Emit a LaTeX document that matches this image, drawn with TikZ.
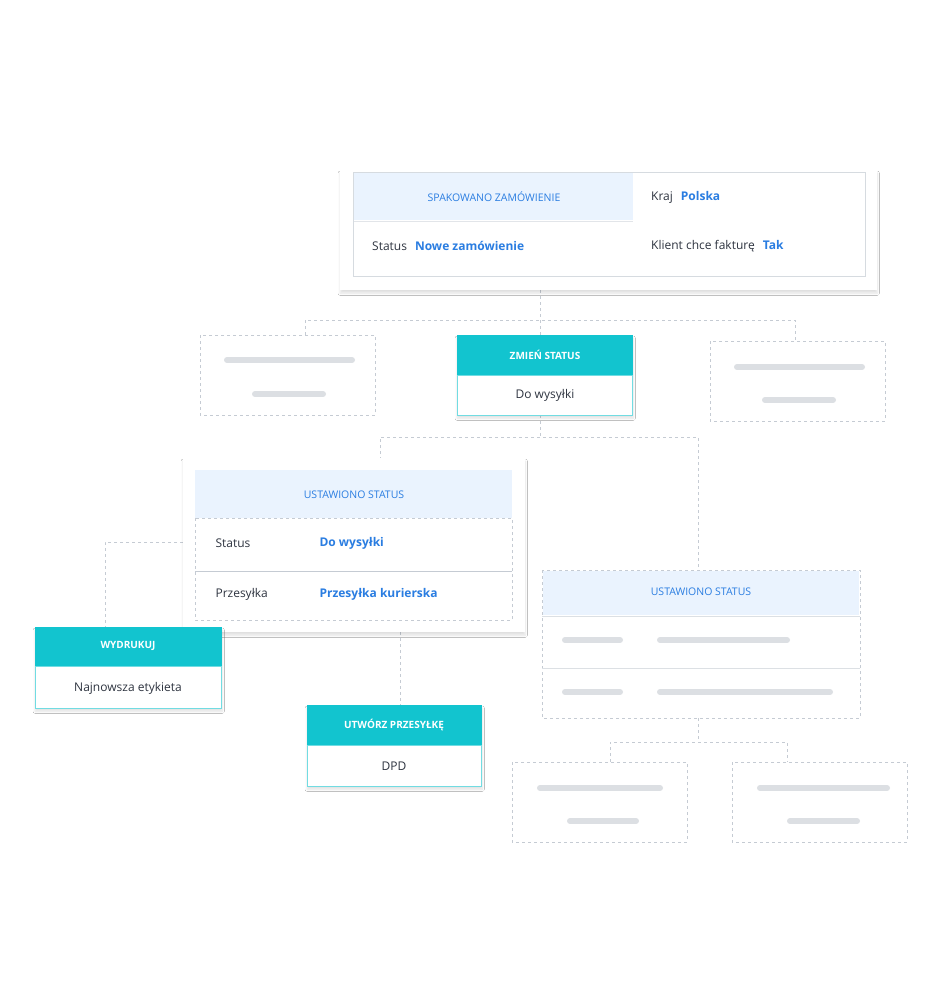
\documentclass[tikz,border=0pt]{standalone}
\usepackage{fontspec}
\setmainfont{Open Sans}
\usetikzlibrary{shadows.blur}
\definecolor{teal}{HTML}{12C4CF}
\definecolor{bl}{HTML}{2A7DE1}
\definecolor{lb}{HTML}{EAF3FE}
\definecolor{dg}{HTML}{C5CBD3}
\definecolor{bar}{HTML}{DCDFE3}
\definecolor{txt}{HTML}{2E3440}
\begin{document}
\begin{tikzpicture}[x=1pt,y=-1pt,
 card/.style={fill=white,draw=none,blur shadow={shadow blur steps=8,shadow xshift=0pt,shadow yshift=-3pt,shadow opacity=12}},
 dbox/.style={draw=dg,dashed,fill=white},
 conn/.style={draw=dg,dashed,line width=0.8pt},
 barl/.style={draw=bar,line width=6pt,line cap=round},
 hd/.style={text=white,font=\bfseries\fontsize{10}{12}\selectfont},
 lbt/.style={text=bl,font=\fontsize{10.5}{12}\selectfont},
 tx/.style={text=txt,font=\fontsize{12}{14}\selectfont},
 vb/.style={text=bl,font=\bfseries\fontsize{12}{14}\selectfont}]
\useasboundingbox (0,0) rectangle (930,990);
\fill[white] (0,0) rectangle (930,990);
% connectors
\draw[conn] (540,290) -- (540,335);
\draw[conn] (305,335) -- (305,320) -- (795,320) -- (795,341);
\draw[conn] (540,415) -- (540,437);
\draw[conn] (380,460) -- (380,437) -- (698,437) -- (698,570);
\draw[conn] (195,542) -- (105,542) -- (105,627);
\draw[conn] (400,632) -- (400,705);
\draw[conn] (698,718) -- (698,742);
\draw[conn] (610,762) -- (610,742) -- (787,742) -- (787,762);
% top card
\node[card,minimum width=537,minimum height=120,anchor=north west,inner sep=0] (top) at (340,170) {};
\draw[draw=dg!70,fill=white] (353,172) rectangle (865,276);
\fill[lb] (354,173) rectangle (633,220);
\draw[draw=dg!50] (354,221) -- (633,221);
\node[lbt] (t1) at (494,197) {SPAKOWANO ZAMÓWIENIE};
\node[anchor=west,inner sep=0] (t2) at (651,197) {{\color{txt}\fontsize{12}{14}\selectfont Kraj}\hspace{8pt}{\color{bl}\bfseries\fontsize{12}{14}\selectfont Polska}};
\node[anchor=west,inner sep=0] (t3) at (372,246) {{\color{txt}\fontsize{12}{14}\selectfont Status}\hspace{8pt}{\color{bl}\bfseries\fontsize{12}{14}\selectfont Nowe zamówienie}};
\node[anchor=west,inner sep=0] (t4) at (651,246) {{\color{txt}\fontsize{12}{14}\selectfont Klient chce fakturę}\hspace{8pt}{\color{bl}\bfseries\fontsize{12}{14}\selectfont Tak}};
% placeholder boxes
\draw[dbox] (200,335) rectangle (375,415);
\draw[barl] (227,360) -- (352,360); \draw[barl] (255,394) -- (323,394);
\draw[dbox] (710,341) rectangle (885,421);
\draw[barl] (737,367) -- (862,367); \draw[barl] (765,400) -- (833,400);
% zmien status
\node[card,minimum width=176,minimum height=80,anchor=north west,inner sep=0] (zm) at (457,335) {};
\draw[teal!60] (457.5,375) rectangle (632.5,415);
\fill[teal] (457,335) rectangle (633,375);
\node[hd] at (545,355) {ZMIEŃ STATUS};
\node[tx] at (545,395) {Do wysyłki};
% ustawiono status left
\node[card,minimum width=342,minimum height=174,anchor=north west,inner sep=0] (us) at (183,458) {};
\fill[lb] (195,470) rectangle (512,518);
\draw[dg,dashed] (195,518) rectangle (512,620);
\draw[dg] (195,571) -- (512,571);
\node[lbt] at (354,495) {USTAWIONO STATUS};
\node[tx,anchor=west] at (212,543) {Status};
\node[vb,anchor=west] at (316,543) {Do wysyłki};
\node[tx,anchor=west] at (212,594) {Przesyłka};
\node[vb,anchor=west] at (316,594) {Przesyłka kurierska};
% wydrukuj
\node[card,minimum width=187,minimum height=81,anchor=north west,inner sep=0] (wd) at (35,627) {};
\draw[teal!60] (35.5,666) rectangle (221.5,708);
\fill[teal] (35,627) rectangle (222,666);
\node[hd] at (128,646) {WYDRUKUJ};
\node[tx] at (128,688) {Najnowsza etykieta};
% utworz
\node[card,minimum width=175,minimum height=81,anchor=north west,inner sep=0] (ut) at (307,705) {};
\draw[teal!60] (307.5,745) rectangle (481.5,786);
\fill[teal] (307,705) rectangle (482,745);
\node[hd] at (394,725) {UTWÓRZ PRZESYŁKĘ};
\node[tx] at (394,766) {DPD};
% ustawiono status right
\draw[dbox] (542,570) rectangle (860,718);
\fill[lb] (543,571) rectangle (859,615);
\draw[dg!60] (542,616) -- (860,616); \draw[dg!60] (542,668) -- (860,668);
\node[lbt] at (701,592) {USTAWIONO STATUS};
\draw[barl] (565,640) -- (620,640); \draw[barl] (660,640) -- (787,640);
\draw[barl] (565,692) -- (620,692); \draw[barl] (660,692) -- (830,692);
% bottom placeholder
\draw[dbox] (512,762) rectangle (687,842);
\draw[barl] (540,788) -- (660,788); \draw[barl] (570,821) -- (636,821);
\draw[dbox] (732,762) rectangle (907,842);
\draw[barl] (760,788) -- (887,788); \draw[barl] (790,821) -- (857,821);
\end{tikzpicture}
\end{document}
